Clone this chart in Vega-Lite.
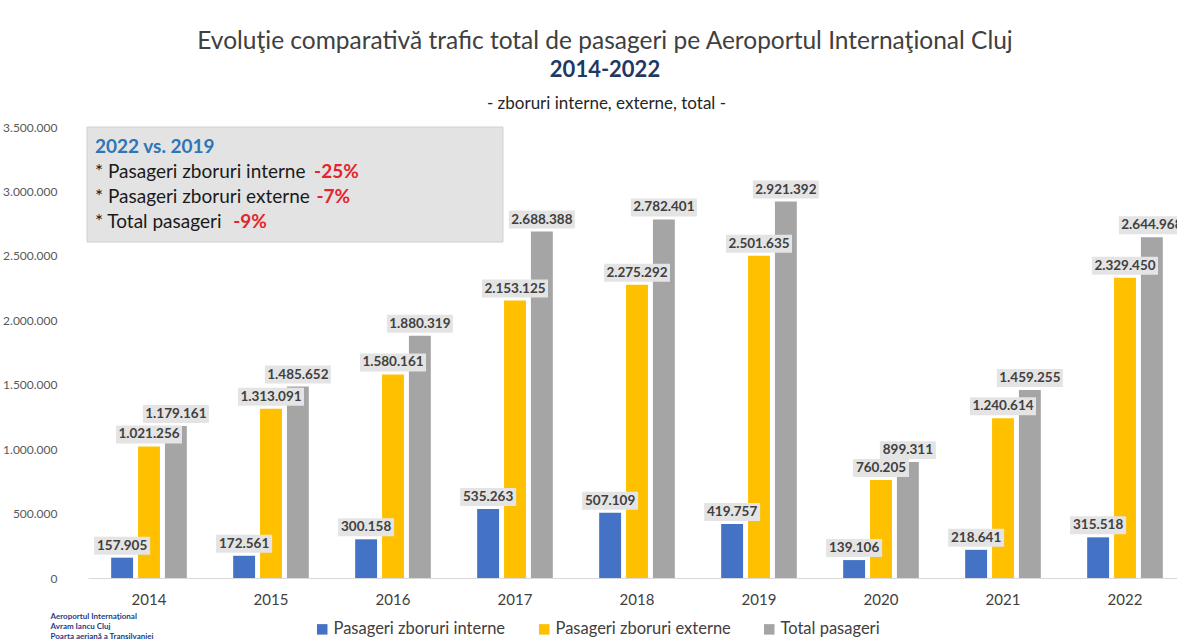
{
  "$schema": "https://vega.github.io/schema/vega-lite/v6.json",
  "width": 1098,
  "height": 451,
  "autosize": "none",
  "padding": {"left": 88, "top": 127, "right": 0, "bottom": 63},
  "background": "white",
  "config": {
    "locale": {"number": {"decimal": ",", "thousands": ".", "grouping": [3], "currency": ["", ""]}},
    "view": {"stroke": null},
    "font": "Lato"
  },
  "title": {
    "text": "Evoluţie comparativă trafic total de pasageri pe Aeroportul Internaţional Cluj",
    "subtitle": "2014-2022",
    "anchor": "middle",
    "dx": -32,
    "font": "Lato",
    "fontSize": 24.5,
    "fontWeight": "normal",
    "color": "#404040",
    "subtitleFont": "Lato",
    "subtitleFontSize": 22,
    "subtitleFontWeight": "bold",
    "subtitleColor": "#1F3864",
    "subtitlePadding": 6,
    "offset": 12
  },
  "datasets": {
    "pax": [
      {"year": "2014", "series": "Pasageri zboruri interne", "value": 157905},
      {"year": "2014", "series": "Pasageri zboruri externe", "value": 1021256},
      {"year": "2014", "series": "Total pasageri", "value": 1179161},
      {"year": "2015", "series": "Pasageri zboruri interne", "value": 172561},
      {"year": "2015", "series": "Pasageri zboruri externe", "value": 1313091},
      {"year": "2015", "series": "Total pasageri", "value": 1485652},
      {"year": "2016", "series": "Pasageri zboruri interne", "value": 300158},
      {"year": "2016", "series": "Pasageri zboruri externe", "value": 1580161},
      {"year": "2016", "series": "Total pasageri", "value": 1880319},
      {"year": "2017", "series": "Pasageri zboruri interne", "value": 535263},
      {"year": "2017", "series": "Pasageri zboruri externe", "value": 2153125},
      {"year": "2017", "series": "Total pasageri", "value": 2688388},
      {"year": "2018", "series": "Pasageri zboruri interne", "value": 507109},
      {"year": "2018", "series": "Pasageri zboruri externe", "value": 2275292},
      {"year": "2018", "series": "Total pasageri", "value": 2782401},
      {"year": "2019", "series": "Pasageri zboruri interne", "value": 419757},
      {"year": "2019", "series": "Pasageri zboruri externe", "value": 2501635},
      {"year": "2019", "series": "Total pasageri", "value": 2921392},
      {"year": "2020", "series": "Pasageri zboruri interne", "value": 139106},
      {"year": "2020", "series": "Pasageri zboruri externe", "value": 760205},
      {"year": "2020", "series": "Total pasageri", "value": 899311},
      {"year": "2021", "series": "Pasageri zboruri interne", "value": 218641},
      {"year": "2021", "series": "Pasageri zboruri externe", "value": 1240614},
      {"year": "2021", "series": "Total pasageri", "value": 1459255},
      {"year": "2022", "series": "Pasageri zboruri interne", "value": 315518},
      {"year": "2022", "series": "Pasageri zboruri externe", "value": 2329450},
      {"year": "2022", "series": "Total pasageri", "value": 2644968}
    ]
  },
  "resolve": {"axis": {"x": "independent"}},
  "layer": [
    {
      "data": {"values": [{}]},
      "mark": {"type": "rect", "fill": "#E3E3E3", "stroke": "#D0D0D0", "strokeWidth": 1},
      "encoding": {
        "x": {"datum": "2014", "type": "nominal", "bandPosition": -0.32,
          "axis": {"orient": "top", "labels": false, "ticks": false, "domain": false, "grid": false,
            "title": "- zboruri interne, externe, total -", "titleFont": "Lato", "titleFontSize": 17, "titleFontWeight": "normal",
            "titleColor": "#262626", "titleX": 518, "titleY": -24, "titleBaseline": "middle", "titleAlign": "center"}},
        "x2": {"datum": "2017", "bandPosition": 0.341},
        "y": {"datum": 3500000, "type": "quantitative"},
        "y2": {"datum": 2607000}
      }
    },
    {
      "data": {"name": "pax"},
      "mark": {"type": "bar"},
      "encoding": {
        "x": {"field": "year", "type": "nominal", "scale": {"paddingInner": 0.38, "paddingOuter": 0.19},
          "axis": {"orient": "bottom", "title": null, "labelAngle": 0, "labelFont": "Lato", "labelFontSize": 15, "labelColor": "#404040",
            "labelPadding": 14, "ticks": false, "domainColor": "#D9D9D9", "grid": false}},
        "xOffset": {"field": "series", "type": "nominal", "sort": ["Pasageri zboruri interne", "Pasageri zboruri externe", "Total pasageri"],
          "scale": {"paddingInner": 0.185, "paddingOuter": 0}},
        "y": {"field": "value", "type": "quantitative", "scale": {"domain": [0, 3500000], "nice": false},
          "axis": {"values": [0, 500000, 1000000, 1500000, 2000000, 2500000, 3000000, 3500000], "format": ",d",
            "labelFont": "Lato", "labelFontSize": 12, "labelColor": "#595959", "labelPadding": 31, "domain": false, "ticks": false,
            "gridColor": "#E8E8E8",
            "title": ["Aeroportul Internaţional", "Avram Iancu Cluj", "Poarta aeriană a Transilvaniei"],
            "titleAngle": 0, "titleX": -38, "titleY": 485, "titleAlign": "left", "titleBaseline": "top",
            "titleFont": "Lato", "titleFontSize": 8, "titleFontWeight": "bold", "titleColor": "#1F3C88", "titleLineHeight": 10}},
        "color": {"field": "series", "type": "nominal",
          "scale": {"domain": ["Pasageri zboruri interne", "Pasageri zboruri externe", "Total pasageri"], "range": ["#4472C4", "#FFC000", "#A5A5A5"]},
          "legend": {"title": null, "orient": "none", "legendX": 226, "legendY": 494, "direction": "horizontal", "symbolType": "square",
            "symbolSize": 110, "symbolStrokeWidth": 0, "labelFont": "Lato", "labelFontSize": 16.5, "labelLimit": 0, "labelColor": "#404040", "columnPadding": 30, "labelOffset": 3}}
      }
    },
    {
      "data": {"name": "pax"},
      "transform": [{"filter": "datum.value >= 1000000"}],
      "mark": {"type": "point", "shape": "M-1,-0.273L1,-0.273L1,0.273L-1,0.273Z", "size": 4356, "filled": true, "color": "#E4E4E4", "opacity": 1, "strokeWidth": 0, "yOffset": -12},
      "encoding": {
        "x": {"field": "year", "type": "nominal", "axis": null},
        "xOffset": {"field": "series", "type": "nominal", "sort": ["Pasageri zboruri interne", "Pasageri zboruri externe", "Total pasageri"]},
        "y": {"field": "value", "type": "quantitative"}
      }
    },
    {
      "data": {"name": "pax"},
      "transform": [{"filter": "datum.value < 1000000"}],
      "mark": {"type": "point", "shape": "M-1,-0.321L1,-0.321L1,0.321L-1,0.321Z", "size": 3136, "filled": true, "color": "#E4E4E4", "opacity": 1, "strokeWidth": 0, "yOffset": -12},
      "encoding": {
        "x": {"field": "year", "type": "nominal", "axis": null},
        "xOffset": {"field": "series", "type": "nominal", "sort": ["Pasageri zboruri interne", "Pasageri zboruri externe", "Total pasageri"]},
        "y": {"field": "value", "type": "quantitative"}
      }
    },
    {
      "data": {"name": "pax"},
      "mark": {"type": "text", "font": "Lato", "fontSize": 13.5, "fontWeight": "bold", "color": "#404040", "baseline": "middle", "dy": -12},
      "encoding": {
        "x": {"field": "year", "type": "nominal", "axis": null},
        "xOffset": {"field": "series", "type": "nominal", "sort": ["Pasageri zboruri interne", "Pasageri zboruri externe", "Total pasageri"]},
        "y": {"field": "value", "type": "quantitative"},
        "text": {"field": "value", "type": "quantitative", "format": ",d"}
      }
    },
    {
      "data": {"values": [{}]},
      "mark": {"type": "text", "font": "Lato", "fontSize": 19, "fontWeight": "bold", "color": "#2E75B6", "align": "left", "baseline": "middle"},
      "encoding": {
        "x": {"datum": "2014", "type": "nominal", "bandPosition": -0.214, "axis": null},
        "y": {"datum": 3345000, "type": "quantitative"},
        "text": {"value": "2022 vs. 2019"}
      }
    },
    {
      "data": {"values": [{}]},
      "mark": {"type": "text", "font": "Lato", "fontSize": 19, "color": "#1A1A1A", "align": "left", "baseline": "middle"},
      "encoding": {
        "x": {"datum": "2014", "type": "nominal", "bandPosition": -0.214, "axis": null},
        "y": {"datum": 3151000, "type": "quantitative"},
        "text": {"value": "* Pasageri zboruri interne"}
      }
    },
    {
      "data": {"values": [{}]},
      "mark": {"type": "text", "font": "Lato", "fontSize": 19, "color": "#1A1A1A", "align": "left", "baseline": "middle"},
      "encoding": {
        "x": {"datum": "2014", "type": "nominal", "bandPosition": -0.214, "axis": null},
        "y": {"datum": 2957000, "type": "quantitative"},
        "text": {"value": "* Pasageri zboruri externe"}
      }
    },
    {
      "data": {"values": [{}]},
      "mark": {"type": "text", "font": "Lato", "fontSize": 19, "color": "#1A1A1A", "align": "left", "baseline": "middle"},
      "encoding": {
        "x": {"datum": "2014", "type": "nominal", "bandPosition": -0.214, "axis": null},
        "y": {"datum": 2763000, "type": "quantitative"},
        "text": {"value": "* Total pasageri"}
      }
    },
    {
      "data": {"values": [{}]},
      "mark": {"type": "text", "font": "Lato", "fontSize": 19, "fontWeight": "bold", "color": "#E3262E", "align": "left", "baseline": "middle"},
      "encoding": {
        "x": {"datum": "2015", "type": "nominal", "bandPosition": 1.07, "axis": null},
        "y": {"datum": 3151000, "type": "quantitative"},
        "text": {"value": "-25%"}
      }
    },
    {
      "data": {"values": [{}]},
      "mark": {"type": "text", "font": "Lato", "fontSize": 19, "fontWeight": "bold", "color": "#E3262E", "align": "left", "baseline": "middle"},
      "encoding": {
        "x": {"datum": "2015", "type": "nominal", "bandPosition": 1.1, "axis": null},
        "y": {"datum": 2957000, "type": "quantitative"},
        "text": {"value": "-7%"}
      }
    },
    {
      "data": {"values": [{}]},
      "mark": {"type": "text", "font": "Lato", "fontSize": 19, "fontWeight": "bold", "color": "#E3262E", "align": "left", "baseline": "middle"},
      "encoding": {
        "x": {"datum": "2015", "type": "nominal", "bandPosition": 0.0, "axis": null},
        "y": {"datum": 2763000, "type": "quantitative"},
        "text": {"value": "-9%"}
      }
    }
  ]
}
